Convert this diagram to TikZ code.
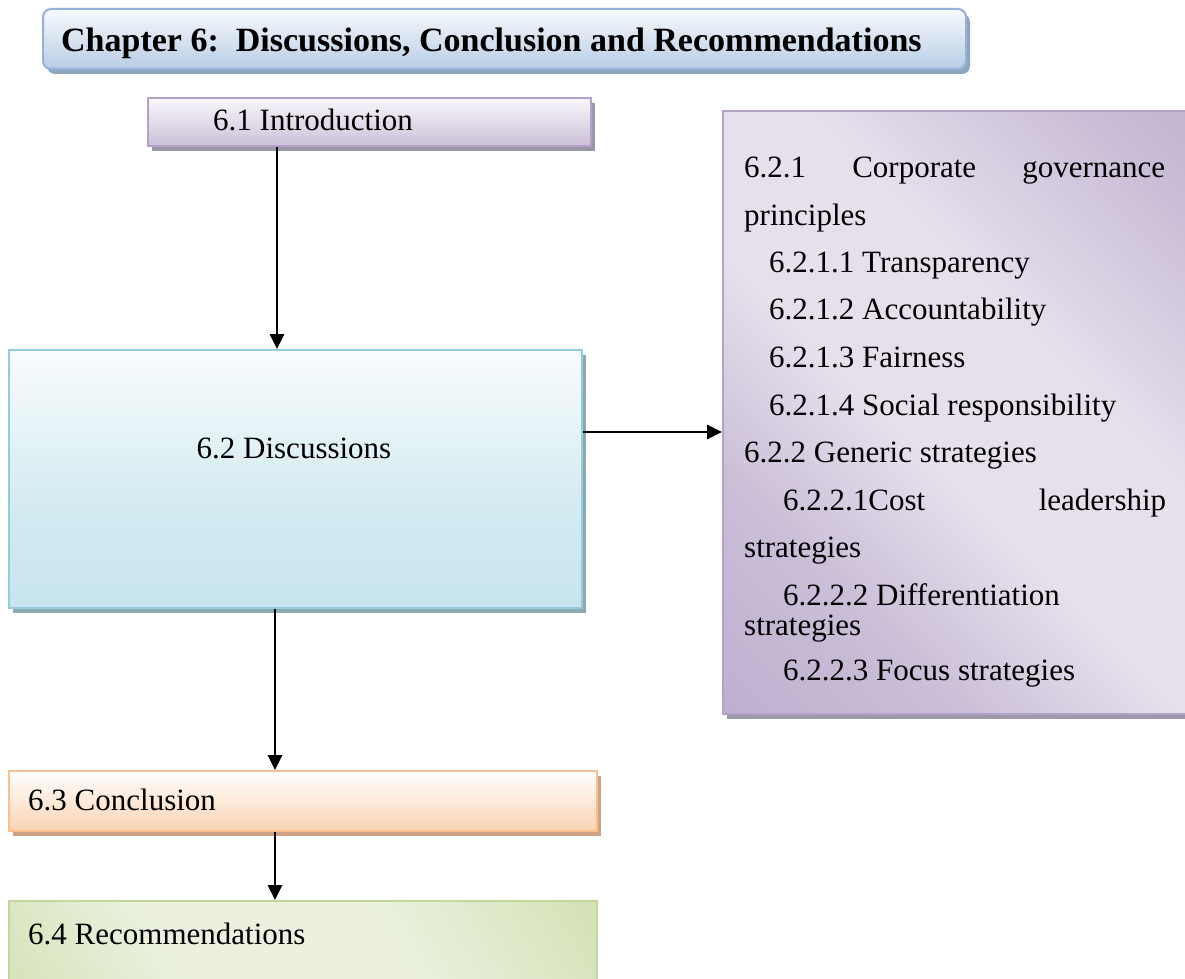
\documentclass[tikz,border=0pt]{standalone}
\usepackage{fontspec}
\setmainfont{Liberation Serif}
\usetikzlibrary{arrows.meta,shadows}

% colour scheme of the chapter map
\definecolor{titletop}{HTML}{F6F9FC}
\definecolor{titlebot}{HTML}{B9CDE5}
\definecolor{titleline}{HTML}{95B3D7}
\definecolor{titleshadow}{HTML}{8EA5C0}
\definecolor{introtop}{HTML}{F8F6FA}
\definecolor{introbot}{HTML}{CCC1DA}
\definecolor{introline}{HTML}{B3A2C7}
\definecolor{introshadow}{HTML}{9E94A9}
\definecolor{disctop}{HTML}{FFFFFF}
\definecolor{discbot}{HTML}{B7DDE8}
\definecolor{discline}{HTML}{93CDDD}
\definecolor{discshadow}{HTML}{8DA9B0}
\definecolor{pdark}{HTML}{B3A2C7}
\definecolor{plight}{HTML}{E6E0EC}
\definecolor{pshadow}{HTML}{A097AA}
\definecolor{conctop}{HTML}{FFFFFF}
\definecolor{concbot}{HTML}{FAD3B3}
\definecolor{concline}{HTML}{FAC090}
\definecolor{concshadow}{HTML}{CDA384}
\definecolor{gdark}{HTML}{C4D79B}
\definecolor{glight}{HTML}{EBF1DE}
\definecolor{gline}{HTML}{C3D69B}

% diagonal shadings: dark corners, light middle band
\pgfdeclareverticalshading{purplediag}{100bp}{color(0bp)=(pdark); color(30bp)=(pdark!55!plight); color(45bp)=(plight); color(60bp)=(plight); color(80bp)=(pdark!60!plight); color(100bp)=(pdark)}
\pgfdeclareverticalshading{greendiag}{100bp}{color(0bp)=(gdark); color(35bp)=(glight); color(60bp)=(glight); color(100bp)=(gdark)}
\pgfdeclareverticalshading{discshade}{100bp}{color(0bp)=(discbot); color(45bp)=(discbot!60!disctop); color(80bp)=(disctop); color(100bp)=(disctop)}

\tikzset{
  frame/.style={rectangle, draw, line width=2pt, anchor=north west, inner sep=0pt},
  offshadow/.style={general shadow={fill=#1, shadow xshift=4pt, shadow yshift=-5pt}},
  txt/.style={anchor=base west, inner sep=0pt, font=\fontsize{31}{36}\selectfont},
  link/.style={line width=2.6pt, -{Triangle[length=15pt,width=14pt]}}
}

\begin{document}
\begin{tikzpicture}[x=1pt,y=-1pt]
\useasboundingbox (0,0) rectangle (1185,979);

% title banner
\node[frame, rounded corners=8pt, draw=titleline, top color=titletop, bottom color=titlebot,
      offshadow=titleshadow, minimum width=923pt, minimum height=60pt] (title) at (42,8) {};
\node[anchor=base west, inner sep=0pt, font=\bfseries\fontsize{34}{40}\selectfont] (titletext) at (61,52)
  {Chapter 6:\ \ Discussions, Conclusion and Recommendations};

% 6.1
\node[frame, draw=introline, top color=introtop, bottom color=introbot,
      offshadow=introshadow, minimum width=443pt, minimum height=48pt] (intro) at (147,97) {};
\node[txt] (introtext) at (213,131) {6.1 Introduction};

% 6.2
\node[frame, draw=discline, shading=discshade,
      offshadow=discshadow, minimum width=573pt, minimum height=258pt] (disc) at (8,349) {};
\node[txt, anchor=base] (disctext) at (294,458) {6.2 Discussions};

% 6.2 sub-sections
\node[frame, draw=pdark, shading=purplediag, shading angle=-45,
      offshadow=pshadow, minimum width=470pt, minimum height=603pt] (subs) at (722,110) {};
\node[txt] (s1)  at (744,177) {\makebox[421pt][s]{6.2.1 Corporate governance}};
\node[txt] (s2)  at (744,225) {principles};
\node[txt] (s3)  at (769,272) {6.2.1.1 Transparency};
\node[txt] (s4)  at (769,319) {6.2.1.2 Accountability};
\node[txt] (s5)  at (769,367) {6.2.1.3 Fairness};
\node[txt] (s6)  at (769,415) {6.2.1.4 Social responsibility};
\node[txt] (s7)  at (744,462) {6.2.2 Generic strategies};
\node[txt] (s8)  at (783,510) {\makebox[383pt][s]{6.2.2.1Cost leadership}};
\node[txt] (s9)  at (744,557) {strategies};
\node[txt] (s10) at (783,605) {6.2.2.2 Differentiation};
\node[txt] (s11) at (744,635) {strategies};
\node[txt] (s12) at (783,680) {6.2.2.3 Focus strategies};

% 6.3
\node[frame, draw=concline, top color=conctop, bottom color=concbot,
      offshadow=concshadow, minimum width=588pt, minimum height=60pt] (conc) at (8,770) {};
\node[txt] (conctext) at (28,810) {6.3 Conclusion};

% 6.4
\node[frame, draw=gline, shading=greendiag, shading angle=-60,
      minimum width=588pt, minimum height=90pt] (recom) at (8,900) {};
\node[txt] (recomtext) at (28,944) {6.4 Recommendations};

% connectors
\coordinate (spine) at (277,0);
\coordinate (lower) at (275,0);
\coordinate (side) at (0,432);
\draw[link] (intro.south -| spine) -- (disc.north -| spine);
\draw[link] (disc.east |- side) -- (subs.west |- side);
\draw[link] (disc.south -| lower) -- (conc.north -| lower);
\draw[link] (conc.south -| lower) -- (recom.north -| lower);
\end{tikzpicture}
\end{document}
